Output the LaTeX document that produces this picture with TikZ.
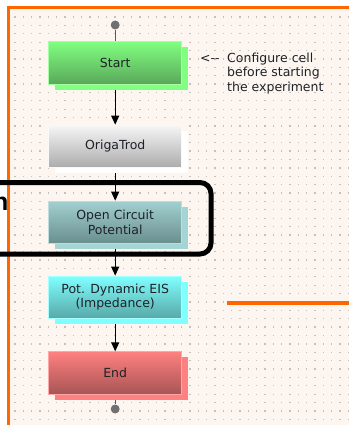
\documentclass[tikz,border=0pt]{standalone}
\usepackage{fontspec}
\setmainfont{DejaVu Sans}
\newfontfamily\headsans{Liberation Sans}
\usetikzlibrary{arrows.meta,shadows}

\definecolor{frameorange}{RGB}{255,102,0}
\definecolor{paper}{RGB}{253,246,240}
\definecolor{griddot}{RGB}{196,192,188}
\definecolor{textdark}{RGB}{30,34,40}
\definecolor{pingray}{RGB}{112,112,112}
% step colours: top of gradient, bottom of gradient, shadow
\definecolor{startT}{RGB}{128,255,128}\definecolor{startB}{RGB}{90,168,90}
\definecolor{origaT}{RGB}{246,246,246}\definecolor{origaB}{RGB}{172,172,172}
\definecolor{ocpT}{RGB}{162,208,208}\definecolor{ocpB}{RGB}{106,142,142}\definecolor{ocpS}{RGB}{165,212,212}
\definecolor{eisT}{RGB}{128,255,255}\definecolor{eisB}{RGB}{88,168,168}
\definecolor{endT}{RGB}{255,128,128}\definecolor{endB}{RGB}{168,85,85}

\begin{document}
\begin{tikzpicture}[x=1pt,y=-1pt,
  stepbox/.style={rectangle, minimum width=133pt, minimum height=42.3pt,
    inner sep=0pt, align=center, text=textdark, line width=0.8pt,
    font=\fontsize{12.5}{14.4}\selectfont},
  stepcolors/.style n args={3}{top color=#1, bottom color=#2, draw=#1!70!white,
    general shadow={fill=#3, shadow xshift=6pt, shadow yshift=-5.5pt}},
  pin/.style={circle, fill=pingray, minimum size=9pt, inner sep=0pt},
  conn/.style={draw=black, line width=1.1pt, -{Triangle[width=8pt,length=9pt]}},
  pinline/.style={draw=pingray!80!black, line width=1.1pt},
  note/.style={inner sep=0pt, text=textdark, font=\fontsize{12.5}{14.5}\selectfont}
]
\useasboundingbox (0,0) rectangle (348,425);
\fill[white] (0,0) rectangle (348,425);

% cut-off heading letter outside the sheet
\node[font=\headsans\bfseries\fontsize{25}{30}\selectfont, anchor=base east,
  inner sep=0pt] (cut) at (8.6,210.5) {n};

% sheet with dot grid
\fill[paper] (8,8) rectangle (360,440);
\foreach \i in {0,...,40}
  \foreach \j in {0,...,49}
    \fill[griddot] ({15+8.33*\i-0.6},{17+8.38*\j-0.6}) rectangle ++(1.3,1.3);
\draw[frameorange, line width=3pt] (8,440) -- (8,8) -- (360,8);
\draw[frameorange, line width=3.6pt] (226.7,303) -- (352,303);

% steps
\node[stepbox, stepcolors={startT}{startB}{startT}] (start) at (115.2,62.9) {Start};
\node[stepbox, stepcolors={origaT}{origaB}{white}] (origa) at (115.2,146.2) {OrigaTrod};
\node[stepbox, stepcolors={ocpT}{ocpB}{ocpS}] (ocp) at (115.2,222.2) {Open Circuit\\Potential};
\node[stepbox, stepcolors={eisT}{eisB}{eisT}] (eis) at (115.2,297.2) {Pot. Dynamic EIS\\(Impedance)};
\node[stepbox, stepcolors={endT}{endB}{endT}] (end) at (115.2,372.9) {End};

% entry and exit pins
\node[pin] (pintop) at (115.2,25) {};
\node[pin] (pinbot) at (115.2,409) {};
\draw[pinline] (pintop) -- (start.north);
\draw[pinline] ([yshift=-5.5pt]end.south) -- (pinbot);

% flow
\draw[conn] ([yshift=-5.5pt]start.south) -- (origa.north);
\draw[conn] ([yshift=-5.5pt]origa.south) -- (ocp.north);
\draw[conn] ([yshift=-5.5pt]ocp.south) -- (eis.north);
\draw[conn] ([yshift=-5.5pt]eis.south) -- (end.north);

% highlight frame around the OCP step
\draw[black, line width=5pt, rounded corners=11pt] (-20,182.5) rectangle (211,254);

% side note
\node[note, anchor=base west] (arrow) at (200,62.5) {<-{}-};
\node[note, anchor=north west, align=left] (hint) at (227,52.5)
  {Configure cell\\before starting\\the experiment};
\end{tikzpicture}
\end{document}
